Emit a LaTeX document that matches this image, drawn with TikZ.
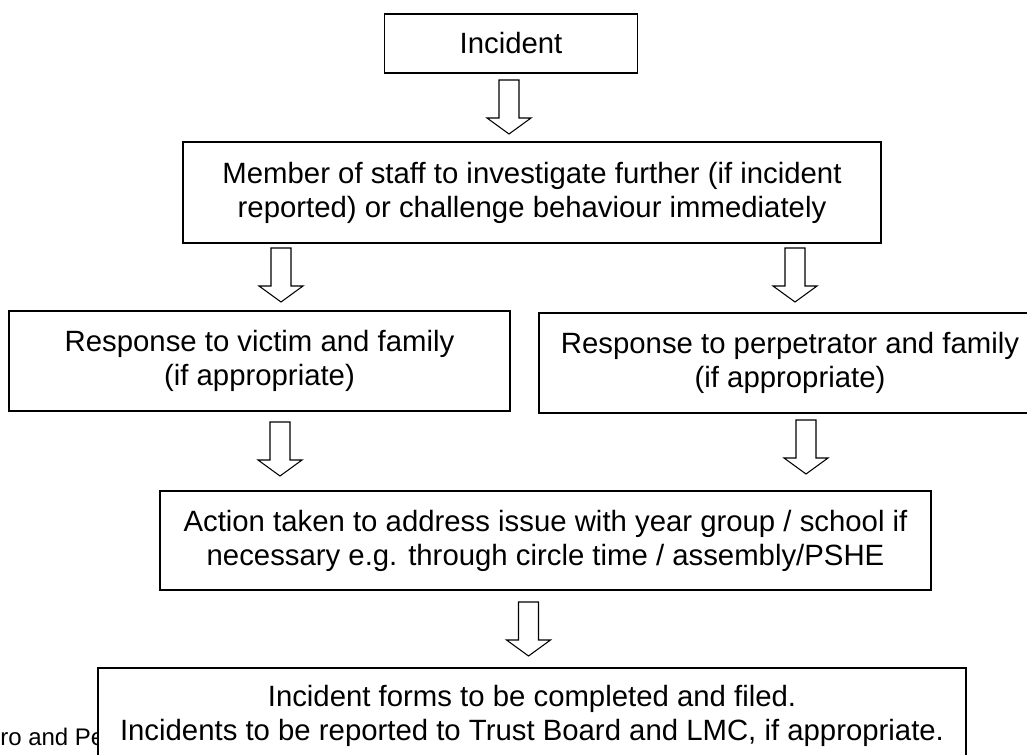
\documentclass[tikz,border=0pt]{standalone}
\usepackage{fontspec}
\setmainfont{Liberation Sans}
\usepackage{tikz}
\usepackage{xcolor}

\begin{document}
\begin{tikzpicture}[x=0.75pt, y=-0.75pt,
        box/.style = {draw, line width = 1.1pt, fill = white, inner sep = 0pt, align = center,
                      font = \fontsize{22}{25.5}\selectfont},
        hollow/.style = {draw, line width = 0.8pt, fill = white}]
        \useasboundingbox (0,0) rectangle (1027,755);
        \clip (0,0) rectangle (1027,755);

        % Top
        \node[box, minimum width = 189.75pt, minimum height = 44.25pt] (inc) at (511,43.5) {Incident};
        \node[box, minimum width = 523.5pt, minimum height = 75.75pt] (staff) at (532,192.5)
            {Member of staff to investigate further (if incident\\reported) or challenge behaviour immediately};

        % Responses
        \node[box, minimum width = 375.75pt, minimum height = 75pt] (victim) at (259.5,361)
            {Response to victim and family\\(if appropriate)};
        \node[box, minimum width = 376.5pt, minimum height = 75pt] (perp) at (790,363)
            {Response to perpetrator and family\\(if appropriate)};

        % Bottom
        \node[box, minimum width = 578.25pt, minimum height = 74.25pt] (action) at (545.5,540.5)
            {Action taken to address issue with year group / school if\\necessary e.g. through circle time / assembly/PSHE};
        \node[font = \fontsize{18}{20}\selectfont, anchor = base west, inner sep = 0pt] (foot) at (0,745) {ro and Pe};
        \node[box, minimum width = 651pt, minimum height = 71.25pt] (forms) at (532,715.5)
            {Incident forms to be completed and filed.\\Incidents to be reported to Trust Board and LMC, if appropriate.};

        % Arrows
        \coordinate (a1) at (509,80);
        \coordinate (a2) at (281,248);
        \coordinate (a3) at (795,248);
        \coordinate (a4) at (280,422);
        \coordinate (a5) at (806,420);
        \coordinate (a6) at (528.5,602);
        \foreach \c in {a1,a2,a3,a4,a5,a6}
            \draw[hollow] (\c) ++(-10,0) -- ++(20,0) -- ++(0,38) -- ++(12,0)
                -- ++(-22,16) -- ++(-22,-16) -- ++(12,0) -- cycle;
    \end{tikzpicture}
\end{document}
